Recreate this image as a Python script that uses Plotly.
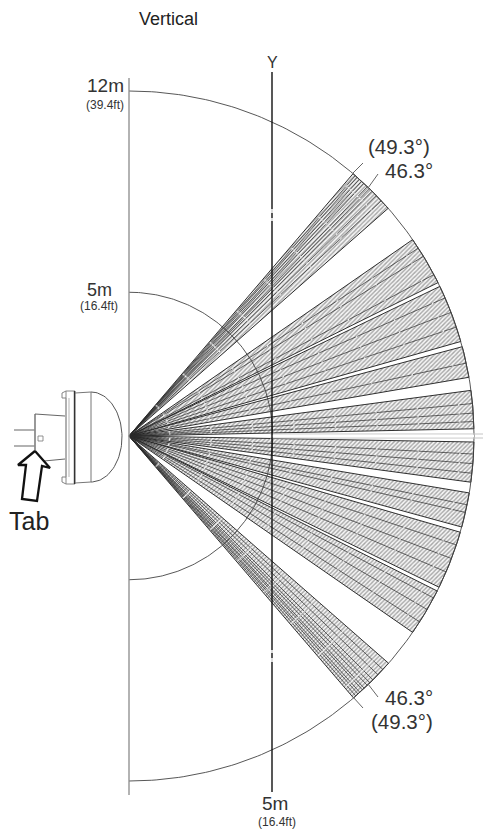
import numpy as np
import plotly.graph_objects as go

W, H = 483, 831
APEX_X, APEX_Y = 129, 436
PX_PER_M = 345 / 12

# values (metres and degrees)
range_far_m = 12
range_near_m = 5
band_edges_deg = [(41.3, 49.5), (26.4, 34.7), (15.9, 25.7), (9.8, 15.0), (1.2, 7.6),
                  (-7.7, -1.0), (-15.3, -9.5), (-26.0, -16.2), (-34.7, -26.7), (-49.4, -41.2)]
inner_rays_deg = [49.0, 48.6, 48.1, 47.6, 47.1, 46.3, 45.8, 45.2, 44.2, 43.0, 31.4, 27.9, 33.0, 23.6, 18.4, 21.0,
                  12.2, 3.8, 5.4, 2.4,
                  -3.0, -4.6, -6.2, -11.5, -12.8, -18.4, -20.8, -23.2, -28.0, -30.2, -32.6,
                  -42.6, -43.8, -45.0, -45.7, -46.3, -47.0, -47.4, -48.0, -48.4, -48.9]
label_angles = ["(49.3°)", "46.3°", "46.3°", "(49.3°)"]
far_labels = ["12m", "(39.4ft)"]
near_labels = ["5m", "(16.4ft)"]


def mx(p):
    return (p - APEX_X) / PX_PER_M


def my(p):
    return (APEX_Y - p) / PX_PER_M


def polar(r, deg):
    a = np.radians(deg)
    return r * np.cos(a), r * np.sin(a)


fig = go.Figure()

# hatched sectors
for lo, hi in band_edges_deg:
    t = np.linspace(lo, hi, 30)
    ax, ay = polar(range_far_m, t)
    fig.add_trace(go.Scatter(
        x=np.r_[0, ax, 0], y=np.r_[0, ay, 0], mode="lines", fill="toself",
        line=dict(color="#1a1a1a", width=0.9), fillcolor="#ffffff",
        fillpattern=dict(shape="/", size=3, solidity=0.45, fgcolor="#555555", bgcolor="#f6f6f6"),
        hoverinfo="skip", showlegend=False))

# inner dashed rays
for deg in inner_rays_deg:
    ex, ey = polar(range_far_m, deg)
    fig.add_trace(go.Scatter(x=[0, ex], y=[0, ey], mode="lines",
                             line=dict(color="#2a2a2a", width=0.7, dash="40px,1.5px"),
                             hoverinfo="skip", showlegend=False))

# range arcs
for r, col, w in [(range_far_m, "#444444", 0.9), (range_near_m, "#444444", 0.9)]:
    t = np.linspace(-90, 90, 240)
    ax, ay = polar(r, t)
    fig.add_trace(go.Scatter(x=ax, y=ay, mode="lines", line=dict(color=col, width=w),
                             hoverinfo="skip", showlegend=False))


def seg(xs, ys, color="#333333", width=1.0, fill=None):
    fig.add_trace(go.Scatter(x=[mx(v) for v in xs], y=[my(v) for v in ys], mode="lines",
                             line=dict(color=color, width=width), fill=fill,
                             fillcolor="#ffffff" if fill else None,
                             hoverinfo="skip", showlegend=False))


# centre line on the axis
seg([270, 483], [434, 434], "#c4c4c4", 1)
seg([270, 483], [438, 438], "#c4c4c4", 1)
seg([270, 474], [436, 436], "#ffffff", 2.5)

# vertical reference lines
seg([129, 129], [78, 795], "#8a8a8a", 1.3)
seg([272, 272], [72, 792], "#111111", 1.4)
seg([272, 272], [209, 213], "#ffffff", 1.6)
seg([272, 272], [218, 221], "#ffffff", 1.6)
seg([272, 272], [650, 653], "#ffffff", 1.6)
seg([272, 272], [658, 662], "#ffffff", 1.6)

# leader lines
seg([353, 363], [173, 163], "#666666", 1)
seg([368, 378], [188, 174], "#666666", 1)
seg([368, 378], [684, 697], "#666666", 1)
seg([353, 363], [697, 708], "#666666", 1)

# sensor outline
dome_t = np.linspace(-90, 90, 60)
seg(list(91 + 31 * np.cos(np.radians(dome_t))), list(437 + 45 * np.sin(np.radians(dome_t))), "#555555", 1)
seg([75, 91], [393, 392], "#666666", 0.9)
seg([75, 91], [483, 482], "#666666", 0.9)
seg([91, 91], [392, 482], "#777777", 1)
seg([66, 75, 75, 66, 66], [391, 391, 484, 484, 391], "#888888", 1)
seg([74.5, 74.5], [391, 484], "#333333", 1.4)
seg([66, 62, 62, 66], [391, 393, 398, 398], "#777777", 0.9)
seg([66, 62, 62, 66], [484, 482, 477, 477], "#777777", 0.9)
seg([69, 69], [398, 477], "#aaaaaa", 0.9)
seg([66, 66], [398, 477], "#999999", 0.9)
seg([35, 35], [414, 456], "#444444", 1.1)
seg([35, 65], [414, 416], "#666666", 1)
seg([44, 65], [461, 459], "#666666", 1)
seg([14, 35], [430, 430], "#888888", 1.3)
seg([14, 35], [446, 446], "#888888", 1.3)
seg([38, 43, 43, 38, 38], [436, 436, 441, 441, 436], "#777777", 0.8)

# tab arrow
seg([35, 50, 42, 37, 22, 26, 18, 35], [451, 468, 466, 501, 499, 465, 465, 451], "#111111", 2.3, fill="toself")

# text
ann = [
    ("Vertical", 168, 19, 18, "#222222"),
    ("Y", 272, 62, 16, "#333333"),
    (far_labels[0], 105, 85, 19, "#333333"),
    (far_labels[1], 104.5, 105, 12, "#333333"),
    (near_labels[0], 99, 290, 18, "#333333"),
    (near_labels[1], 99, 306, 12, "#333333"),
    (near_labels[0], 275, 803, 19, "#333333"),
    (near_labels[1], 277, 822, 12, "#333333"),
    (label_angles[0], 399, 146, 20.5, "#333333"),
    (label_angles[1], 409, 170, 20.5, "#333333"),
    (label_angles[2], 409, 697, 20.5, "#333333"),
    (label_angles[3], 402, 721, 20.5, "#333333"),
    ("Tab", 29, 521, 25, "#222222"),
]
for text, x, y, size, color in ann:
    fig.add_annotation(x=mx(x), y=my(y), text=text, showarrow=False, xanchor="center", yanchor="middle",
                       font=dict(family="Liberation Sans", size=size, color=color))

fig.update_layout(
    width=W, height=H, margin=dict(l=0, r=0, t=0, b=0),
    paper_bgcolor="white", plot_bgcolor="white", showlegend=False,
    xaxis=dict(range=[mx(0), mx(W)], visible=False, fixedrange=True),
    yaxis=dict(range=[my(H), my(0)], visible=False, fixedrange=True),
)
fig.write_html("out.html", config={"displayModeBar": False},
               post_script="document.body.style.margin='0';document.documentElement.style.overflow='hidden';")
